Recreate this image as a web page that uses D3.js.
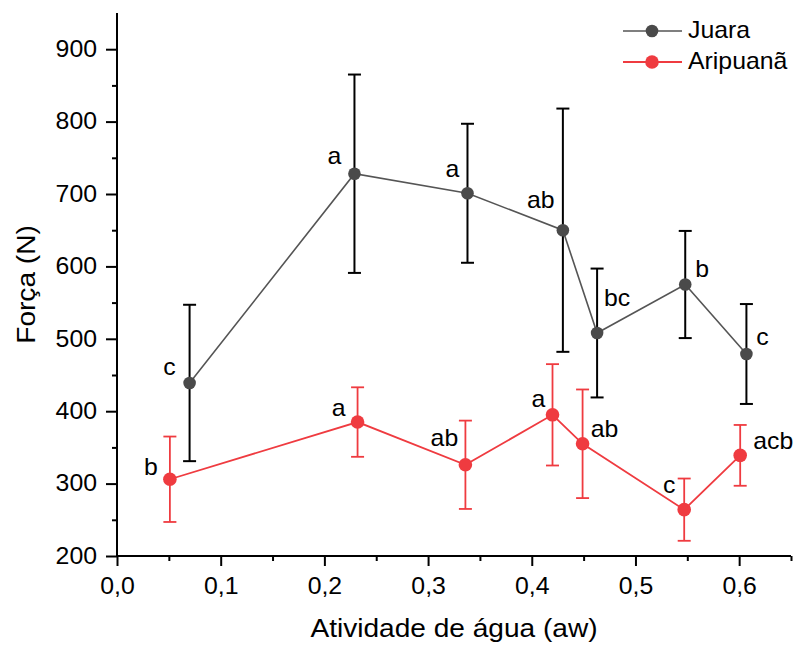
<!DOCTYPE html>
<html>
<head>
<meta charset="utf-8">
<script src="https://cdn.jsdelivr.net/npm/d3@7"></script>
<style>
  html, body { margin: 0; padding: 0; background: #fff; }
  svg { display: block; font-family: Arial, "Liberation Sans", sans-serif; }
</style>
</head>
<body>
<svg id="chart" width="795" height="646"></svg>
<script>
// Water activity (aw) and mean force (N) with standard deviations
const juaraAw    = [0.070, 0.229, 0.338, 0.430, 0.463, 0.548, 0.607];
const juaraForce = [439, 728, 701, 650, 508, 575, 479];
const juaraSd    = [108, 137, 96, 168, 89, 74, 69];
const juaraGroup = ["c", "a", "a", "ab", "bc", "b", "c"];

const aripAw     = [0.051, 0.232, 0.336, 0.420, 0.449, 0.547, 0.601];
const aripForce  = [306, 385, 326, 395, 355, 264, 339];
const aripSd     = [59, 48, 61, 70, 75, 43, 42];
const aripGroup  = ["b", "a", "ab", "a", "ab", "c", "acb"];

const xTicks = [0, 0.1, 0.2, 0.3, 0.4, 0.5, 0.6];
const yTicks = [200, 300, 400, 500, 600, 700, 800, 900];

// where each letter sits relative to its point: [dx, dy of baseline]
const juaraLabelOffset = [[-20,-8],[-20,-10],[-15,-16],[-22,-22],[20,-27],[17,-7],[16,-9]];
const aripLabelOffset  = [[-19,-4],[-19,-6],[-21,-19],[-14,-8],[22,-7],[-15,-17],[33,-6]];

const svg = d3.select("#chart");
const plotLeft = 117, plotRight = 791, plotTop = 13, plotBottom = 556;
const WIDEN = 1.08; // text is set slightly wider than the face's natural width

const x = d3.scaleLinear().domain([0, 0.65]).range([plotLeft, plotRight]);
const y = d3.scaleLinear().domain([200, 950]).range([plotBottom, plotTop]);

const comma = v => d3.format(".1f")(v).replace(".", ",");

// widen a text element horizontally around its own anchor point
function widen(sel) {
  sel.each(function () {
    const t = d3.select(this);
    const ax = +t.attr("x") || 0;
    const prev = t.attr("transform") || "";
    t.attr("transform", `${prev} translate(${ax},0) scale(${WIDEN},1) translate(${-ax},0)`);
  });
}

// axes
const xAxis = svg.append("g").attr("transform", `translate(0,${plotBottom})`);
xAxis.append("g")
  .call(d3.axisBottom(x).tickValues(d3.range(0.05, 0.66, 0.1)).tickSize(5).tickFormat(""))
  .call(g => g.select(".domain").remove());
xAxis.append("g")
  .call(d3.axisBottom(x).tickValues(xTicks).tickSize(10).tickPadding(12).tickFormat(comma))
  .call(g => g.select(".domain").attr("d", `M${plotLeft},0H${plotRight}`));

const yAxis = svg.append("g").attr("transform", `translate(${plotLeft},0)`);
yAxis.append("g")
  .call(d3.axisLeft(y).tickValues(d3.range(250, 900, 100)).tickSize(5).tickFormat(""))
  .call(g => g.select(".domain").remove());
yAxis.append("g")
  .call(d3.axisLeft(y).tickValues(yTicks).tickSize(11).tickPadding(9).tickFormat(d3.format("d")))
  .call(g => g.select(".domain").attr("d", `M0,${plotTop}V${plotBottom}`));

svg.selectAll(".tick line, .domain").attr("stroke", "#000").attr("stroke-width", 2);
svg.selectAll(".tick text").attr("fill", "#000").style("font-size", "23px")
  .style("font-family", "Arial, 'Liberation Sans', sans-serif").call(widen);

// axis titles
const midX = (plotLeft + plotRight) / 2;
svg.append("text")
  .attr("x", midX).attr("y", 637)
  .attr("text-anchor", "middle")
  .style("font-size", "26px")
  .text("Atividade de água (aw)").call(widen);
svg.append("g").attr("transform", `translate(35,${(plotTop + plotBottom) / 2}) rotate(-90)`)
  .append("text")
  .attr("text-anchor", "middle")
  .style("font-size", "26px")
  .text("Força (N)").call(widen);

function series(aw, force, sd, groups, offsets, o) {
  const pts = aw.map((v, i) => ({ x: v, y: force[i], sd: sd[i], g: groups[i], off: offsets[i] }));
  const g = svg.append("g");
  g.append("path").datum(pts)
    .attr("fill", "none").attr("stroke", o.line).attr("stroke-width", o.lineWidth)
    .attr("d", d3.line().x(d => x(d.x)).y(d => y(d.y)));
  const eb = g.selectAll(".eb").data(pts).join("g").attr("class", "eb")
    .attr("stroke", o.err).attr("stroke-width", o.errWidth);
  eb.append("line").attr("x1", d => x(d.x)).attr("x2", d => x(d.x))
    .attr("y1", d => y(d.y + d.sd)).attr("y2", d => y(d.y - d.sd));
  eb.append("line").attr("x1", d => x(d.x) - o.cap).attr("x2", d => x(d.x) + o.cap)
    .attr("y1", d => y(d.y + d.sd)).attr("y2", d => y(d.y + d.sd));
  eb.append("line").attr("x1", d => x(d.x) - o.cap).attr("x2", d => x(d.x) + o.cap)
    .attr("y1", d => y(d.y - d.sd)).attr("y2", d => y(d.y - d.sd));
  g.selectAll("circle").data(pts).join("circle")
    .attr("cx", d => x(d.x)).attr("cy", d => y(d.y)).attr("r", o.r).attr("fill", o.marker);
  g.selectAll(".lbl").data(pts).join("text").attr("class", "lbl")
    .attr("x", d => x(d.x) + d.off[0]).attr("y", d => y(d.y) + d.off[1])
    .attr("text-anchor", "middle").style("font-size", "23px").attr("fill", "#000")
    .text(d => d.g).call(widen);
}

const gray = { line: "#555555", lineWidth: 1.6, err: "#000", errWidth: 2, cap: 6.5, r: 6.3, marker: "#4a4a4a" };
const red  = { line: "#ef3b40", lineWidth: 1.8, err: "#ef3b40", errWidth: 1.8, cap: 6.5, r: 6.8, marker: "#ef3b40" };

series(juaraAw, juaraForce, juaraSd, juaraGroup, juaraLabelOffset, gray);
series(aripAw, aripForce, aripSd, aripGroup, aripLabelOffset, red);

// legend
const legend = svg.append("g");
[["Juara", gray], ["Aripuanã", red]].forEach(([name, o], i) => {
  const ly = 31 + i * 31;
  legend.append("line").attr("x1", 623).attr("x2", 682).attr("y1", ly).attr("y2", ly)
    .attr("stroke", o.line).attr("stroke-width", o.lineWidth);
  legend.append("circle").attr("cx", 652).attr("cy", ly).attr("r", o.r).attr("fill", o.marker);
  legend.append("text").attr("x", 688).attr("y", ly + 7.5).style("font-size", "23px").text(name).call(widen);
});
</script>
</body>
</html>
